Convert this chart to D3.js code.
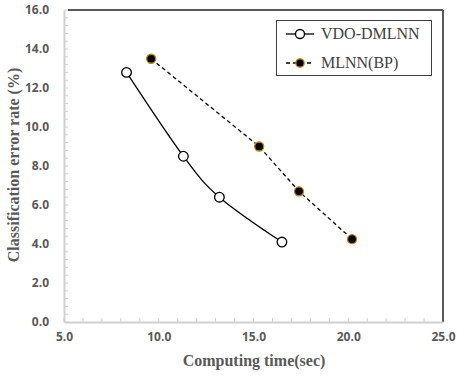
<!DOCTYPE html>
<html>
<head>
<meta charset="utf-8">
<script src="https://cdn.jsdelivr.net/npm/d3@7"></script>
<style>
  body { margin: 0; background: #fff; }
  svg { display: block; }
</style>
</head>
<body>
<svg id="chart"></svg>
<script>
// data
var seriesNames = ["VDO-DMLNN", "MLNN(BP)"];
var vdoTime = [8.3, 11.3, 13.2, 16.5];
var vdoError = [12.8, 8.5, 6.4, 4.1];
var bpTime = [9.6, 15.3, 17.4, 20.2];
var bpError = [13.5, 9.0, 6.7, 4.25];
var xTicks = [5, 10, 15, 20, 25];
var yTicks = [0, 2, 4, 6, 8, 10, 12, 14, 16];

var w = 457, h = 376;
var plotLeft = 64, plotRight = 443, plotTop = 10, plotBottom = 322;

var svg = d3.select("#chart")
    .attr("width", w)
    .attr("height", h);

//Create scale functions
var xScale = d3.scaleLinear().domain([5, 25]).range([plotLeft, plotRight]);
var yScale = d3.scaleLinear().domain([0, 16]).range([plotBottom, plotTop]);

// minor ticks (inside)
var xMinor = d3.range(5, 25.01, 1);
var yMinor = d3.range(0, 16.01, 0.4);

svg.append("g")
    .selectAll("line")
    .data(xMinor)
    .enter()
    .append("line")
    .attr("x1", function(d) { return xScale(d); })
    .attr("x2", function(d) { return xScale(d); })
    .attr("y1", plotBottom)
    .attr("y2", plotBottom - 4)
    .attr("stroke", "#d0d0d0")
    .attr("stroke-width", 1);

svg.append("g")
    .selectAll("line")
    .data(yMinor)
    .enter()
    .append("line")
    .attr("x1", plotLeft)
    .attr("x2", plotLeft + 4)
    .attr("y1", function(d) { return yScale(d); })
    .attr("y2", function(d) { return yScale(d); })
    .attr("stroke", "#d0d0d0")
    .attr("stroke-width", 1);

// top and right border lines (dark)
svg.append("line")
    .attr("x1", xScale(5) + 4).attr("x2", plotRight)
    .attr("y1", plotTop).attr("y2", plotTop)
    .attr("stroke", "#595959").attr("stroke-width", 2);
svg.append("line")
    .attr("x1", plotRight).attr("x2", plotRight)
    .attr("y1", plotTop).attr("y2", plotBottom)
    .attr("stroke", "#595959").attr("stroke-width", 2);

//Define X axis
var xAxis = d3.axisBottom(xScale)
    .tickValues(xTicks)
    .tickSize(0)
    .tickPadding(10)
    .tickFormat(d3.format(".1f"));

//Define Y axis
var yAxis = d3.axisLeft(yScale)
    .tickValues(yTicks)
    .tickSize(0)
    .tickPadding(15)
    .tickFormat(d3.format(".1f"));

var gx = svg.append("g")
    .attr("transform", "translate(0," + plotBottom + ")")
    .call(xAxis);

var gy = svg.append("g")
    .attr("transform", "translate(" + plotLeft + ",0)")
    .call(yAxis);

[gx, gy].forEach(function(g) {
    g.select(".domain").attr("stroke", "#d0d0d0").attr("stroke-width", 2);
    g.selectAll("text")
        .attr("fill", "#595959")
        .style("font-family", "'Open Sans', 'Liberation Sans', sans-serif")
        .style("font-weight", "bold")
        .style("font-size", "12px");
});

// lines
var vdoData = vdoTime.map(function(t, i) { return [t, vdoError[i]]; });
var bpData = bpTime.map(function(t, i) { return [t, bpError[i]]; });

var smoothLine = d3.line()
    .x(function(d) { return xScale(d[0]); })
    .y(function(d) { return yScale(d[1]); })
    .curve(d3.curveCardinal.tension(0));

var straightLine = d3.line()
    .x(function(d) { return xScale(d[0]); })
    .y(function(d) { return yScale(d[1]); });

svg.append("path")
    .datum(vdoData)
    .attr("d", smoothLine)
    .attr("fill", "none")
    .attr("stroke", "#000")
    .attr("stroke-width", 1.3);

svg.append("path")
    .datum(bpData)
    .attr("d", straightLine)
    .attr("fill", "none")
    .attr("stroke", "#000")
    .attr("stroke-width", 1.3)
    .attr("stroke-dasharray", "4,3");

// markers
svg.selectAll(".vdo")
    .data(vdoData)
    .enter()
    .append("circle")
    .attr("class", "vdo")
    .attr("cx", function(d) { return xScale(d[0]); })
    .attr("cy", function(d) { return yScale(d[1]); })
    .attr("r", 4.8)
    .attr("fill", "#fff")
    .attr("stroke", "#000")
    .attr("stroke-width", 1.3);

svg.selectAll(".bp")
    .data(bpData)
    .enter()
    .append("circle")
    .attr("class", "bp")
    .attr("cx", function(d) { return xScale(d[0]); })
    .attr("cy", function(d) { return yScale(d[1]); })
    .attr("r", 4.5)
    .attr("fill", "#000")
    .attr("stroke", "#b8860b")
    .attr("stroke-width", 1.3);

// Legend
var legend = svg.append("g");
legend.append("rect")
    .attr("x", 276.5).attr("y", 20.5)
    .attr("width", 155).attr("height", 55)
    .attr("fill", "#fff")
    .attr("stroke", "#404040")
    .attr("stroke-width", 1);

seriesNames.forEach(function(name, i) {
    var ly = 34 + i * 29;
    legend.append("line")
        .attr("x1", 286).attr("x2", 314)
        .attr("y1", ly).attr("y2", ly)
        .attr("stroke", "#000")
        .attr("stroke-width", 1.3)
        .attr("stroke-dasharray", i == 0 ? null : "4,3");
    legend.append("circle")
        .attr("cx", 300).attr("cy", ly)
        .attr("r", i == 0 ? 4.5 : 4.2)
        .attr("fill", i == 0 ? "#fff" : "#000")
        .attr("stroke", i == 0 ? "#000" : "#b8860b")
        .attr("stroke-width", 1.3);
    legend.append("text")
        .attr("x", 321).attr("y", ly + 5)
        .attr("fill", "#404040")
        .style("font-family", "'Liberation Serif', 'Times New Roman', serif")
        .style("font-size", "16px")
        .text(name);
});

// X axis label
svg.append("text")
    .attr("text-anchor", "middle")
    .attr("x", 254)
    .attr("y", 366)
    .attr("fill", "#595959")
    .style("font-family", "'Liberation Serif', 'Times New Roman', serif")
    .style("font-weight", "bold")
    .style("font-size", "16px")
    .text("Computing time(sec)");

// Y axis label
svg.append("text")
    .attr("text-anchor", "middle")
    .attr("transform", "translate(19," + 165 + ") rotate(-90)")
    .attr("fill", "#595959")
    .style("font-family", "'Liberation Serif', 'Times New Roman', serif")
    .style("font-weight", "bold")
    .style("font-size", "16px")
    .text("Classification error rate (%)");
</script>
</body>
</html>
